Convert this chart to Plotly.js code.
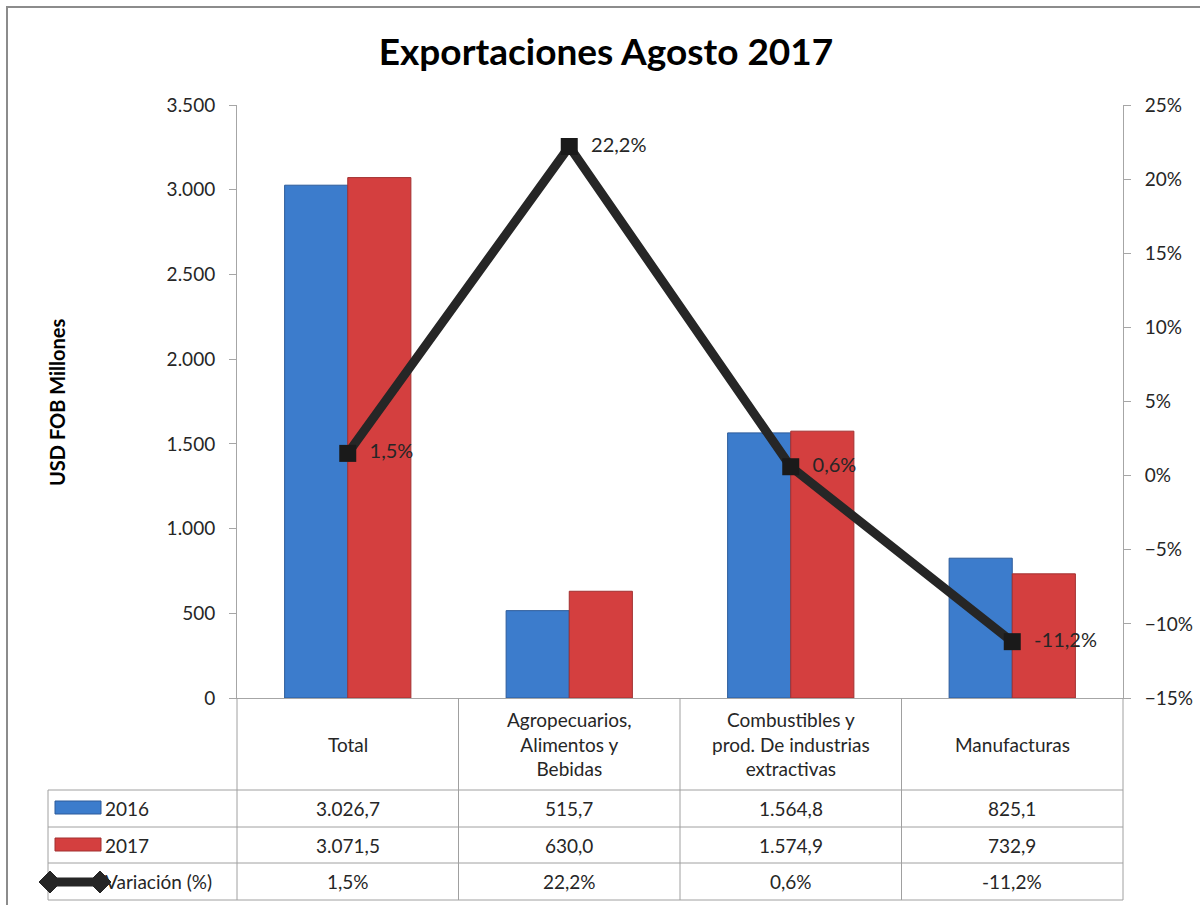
<!DOCTYPE html>
<html>
<head>
<meta charset="utf-8">
<script src="https://cdn.plot.ly/plotly-3.0.1.min.js"></script>
<style>
  html, body { margin: 0; padding: 0; background: #ffffff; }
  #chart { width: 1200px; height: 905px; }
</style>
</head>
<body>
<div id="chart"></div>
<script>
// ---- data ----
var categories = ["Total", "Agropecuarios,<br>Alimentos y<br>Bebidas", "Combustibles y<br>prod. De industrias<br>extractivas", "Manufacturas"];
var values2016 = [3026.7, 515.7, 1564.8, 825.1];
var values2017 = [3071.5, 630.0, 1574.9, 732.9];
var variacion = [1.5, 22.2, 0.6, -11.2];
var seriesNames = ["2016", "2017", "Variación (%)"];
var titleText = "Exportaciones Agosto 2017";
var yTitleText = "USD FOB Millones";

// ---- layout geometry (pixels) ----
var W = 1200, H = 905;
var L = 237, R = 1123, T = 105, B = 698;
function px(x) { return (x - L) / (R - L); }
function py(y) { return (B - y) / (B - T); }

function fmtNum(v) {
  var s = v.toFixed(1).split(".");
  var intPart = s[0].replace(/\B(?=(\d{3})+(?!\d))/g, ".");
  return intPart + "," + s[1];
}
function fmtPct(v) { return v.toFixed(1).replace(".", ",") + "%"; }

var font = "Lato, 'Open Sans', sans-serif";
var txtColor = "#262626";
var gridCol = "#a6a6a6";

var traces = [
  {
    type: "bar", name: seriesNames[0], x: categories, y: values2016,
    marker: { color: "#3c7ccc", line: { color: "#2c5b9a", width: 1 } },
    hoverinfo: "y"
  },
  {
    type: "bar", name: seriesNames[1], x: categories, y: values2017,
    marker: { color: "#d43f3f", line: { color: "#a23030", width: 1 } },
    hoverinfo: "y"
  },
  {
    type: "scatter", mode: "lines+markers+text", name: seriesNames[2],
    x: categories, y: variacion, yaxis: "y2",
    line: { color: "#262626", width: 9 },
    marker: { symbol: "square", size: 17, color: "#1a1a1a" },
    texttemplate: "\u00a0\u00a0%{y:.1f}%", textposition: "middle right",
    textfont: { family: font, size: 20, color: txtColor },
    cliponaxis: false
  }
];

// ---- table shapes & annotations ----
var shapes = [];
var annotations = [];
var lineStyle = { color: "#a0a0a0", width: 1 };
function hline(y, x0, x1) { shapes.push({ type: "line", xref: "paper", yref: "paper", x0: px(x0), x1: px(x1), y0: py(y), y1: py(y), line: lineStyle }); }
function vline(x, y0, y1) { shapes.push({ type: "line", xref: "paper", yref: "paper", x0: px(x), x1: px(x), y0: py(y0), y1: py(y1), line: lineStyle }); }

// outer chart border
shapes.push({ type: "rect", xref: "paper", yref: "paper", x0: px(7), x1: px(1215), y0: py(7), y1: py(930), line: { color: "#8c8c8c", width: 2 } });

var rowLines = [790, 827, 863, 900];
rowLines.forEach(function (y) { hline(y, 48, R); });
var colW = (R - L) / categories.length;
for (var c = 0; c <= categories.length; c++) vline(L + c * colW, B, 900);
vline(48, 790, 900);

// header labels
categories.forEach(function (cat, i) {
  annotations.push({ xref: "paper", yref: "paper", x: (i + 0.5) / categories.length, y: py(744), text: cat, showarrow: false,
    xanchor: "center", yanchor: "middle", align: "center", font: { family: font, size: 19, color: txtColor } });
});
// row values
var rows = [
  { y: 808, vals: values2016.map(fmtNum) },
  { y: 845, vals: values2017.map(fmtNum) },
  { y: 882, vals: variacion.map(fmtPct) }
];
rows.forEach(function (row, r) {
  row.vals.forEach(function (v, i) {
    annotations.push({ xref: "paper", yref: "paper", x: (i + 0.5) / categories.length, y: py(row.y), text: v, showarrow: false,
      xanchor: "center", yanchor: "middle", font: { family: font, size: 19, color: txtColor } });
  });
  annotations.push({ xref: "paper", yref: "paper", x: px(103), y: py(row.y), text: seriesNames[r], showarrow: false,
    xanchor: "left", yanchor: "middle", font: { family: font, size: 19, color: txtColor } });
});
// legend keys inside table
shapes.push({ type: "rect", xref: "paper", yref: "paper", x0: px(55), x1: px(101), y0: py(814), y1: py(801), fillcolor: "#3c7ccc", line: { color: "#2c5b9a", width: 1 } });
shapes.push({ type: "rect", xref: "paper", yref: "paper", x0: px(55), x1: px(101), y0: py(851), y1: py(838), fillcolor: "#d43f3f", line: { color: "#a23030", width: 1 } });
shapes.push({ type: "line", xref: "paper", yref: "paper", x0: px(50), x1: px(100), y0: py(882), y1: py(882), line: { color: "#262626", width: 9 } });
[50, 100].forEach(function (cx) {
  var d = 11;
  var path = "M " + px(cx - d) + "," + py(882) + " L " + px(cx) + "," + py(882 - d) + " L " + px(cx + d) + "," + py(882) + " L " + px(cx) + "," + py(882 + d) + " Z";
  shapes.push({ type: "path", xref: "paper", yref: "paper", path: path, fillcolor: "#262626", line: { color: "#262626", width: 1 } });
});

// y-axis title
annotations.push({ xref: "paper", yref: "paper", x: px(57), y: py(402), text: "<b>" + yTitleText + "</b>", showarrow: false,
  textangle: -90, xanchor: "center", yanchor: "middle", font: { family: font, size: 20, color: "#000000" } });

var layout = {
  width: W, height: H,
  margin: { l: L, r: W - R, t: T, b: H - B, pad: 0 },
  paper_bgcolor: "#ffffff", plot_bgcolor: "#ffffff",
  separators: ",.",
  showlegend: false,
  barmode: "group", bargap: 0.43, bargroupgap: 0,
  title: { text: "<b>" + titleText + "</b>", font: { family: font, size: 37, color: "#000000" },
    xref: "container", x: 0.505, xanchor: "center", yref: "container", y: 1 - 52 / H, yanchor: "middle" },
  xaxis: { showticklabels: false, ticks: "", showgrid: false, zeroline: false, showline: true, linecolor: gridCol, linewidth: 1, fixedrange: true },
  yaxis: { range: [0, 3500], dtick: 500, tickformat: ",.0f", showgrid: false, zeroline: false,
    showline: true, linecolor: gridCol, linewidth: 1, ticks: "outside", ticklen: 7, tickcolor: gridCol,
    tickfont: { family: font, size: 19, color: txtColor }, ticklabelstandoff: 10 },
  yaxis2: { overlaying: "y", side: "right", range: [-15, 25], dtick: 5, ticksuffix: "%", showgrid: false, zeroline: false,
    showline: true, linecolor: gridCol, linewidth: 1, ticks: "outside", ticklen: 7, tickcolor: gridCol,
    tickfont: { family: font, size: 19, color: txtColor }, ticklabelstandoff: 10 },
  shapes: shapes,
  annotations: annotations
};

Plotly.newPlot("chart", traces, layout, { displayModeBar: false, staticPlot: true });
</script>
</body>
</html>
